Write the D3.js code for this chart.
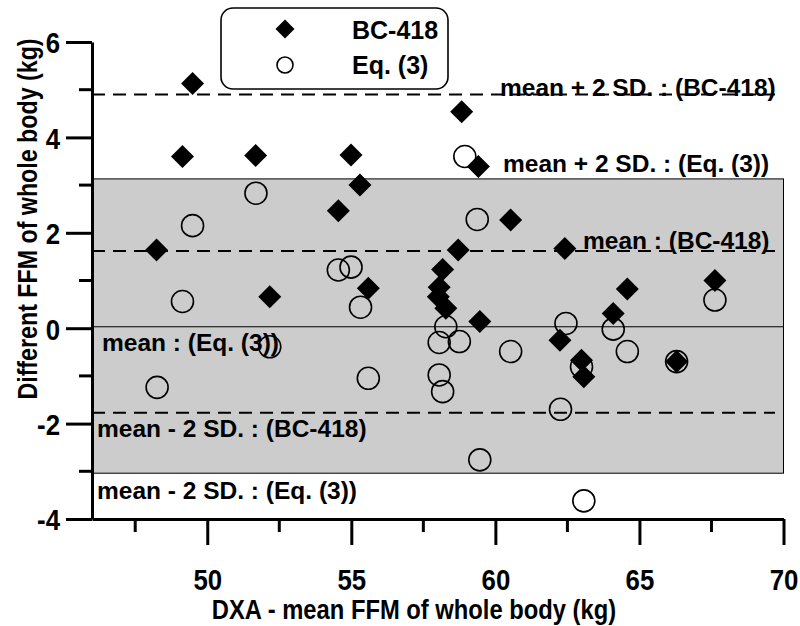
<!DOCTYPE html>
<html>
<head>
<meta charset="utf-8">
<script src="https://cdn.jsdelivr.net/npm/d3@7"></script>
<style>
  body { margin: 0; background: #fff; }
  svg { display: block; }
  text { font-family: "Liberation Sans", Arial, sans-serif; font-weight: bold; fill: #000; }
</style>
</head>
<body>
<div id="main-vis"></div>
<script>
// BC-418 (filled diamonds)
const bcX = [49.49, 49.14, 51.68, 54.99, 55.30, 58.83, 59.41, 60.53, 62.41, 58.71, 54.55, 48.24, 52.17,
             55.59, 58.17, 58.05, 58.02, 58.28, 59.46, 64.58, 64.09, 67.62, 62.24, 62.99, 63.07, 66.29];
const bcY = [5.13, 3.60, 3.62, 3.63, 3.00, 4.54, 3.39, 2.27, 1.67, 1.64, 2.46, 1.64, 0.66,
             0.84, 1.23, 0.86, 0.66, 0.42, 0.14, 0.82, 0.31, 1.00, -0.25, -0.67, -1.02, -0.70];
// Eq. (3) (open circles)
const eqX = [58.94, 51.69, 49.49, 54.55, 54.99, 49.14, 55.32, 58.28, 58.05, 58.75, 52.17, 55.59, 48.26,
             58.05, 58.17, 59.37, 60.53, 62.45, 62.26, 59.46, 64.09, 64.58, 67.62, 62.99, 66.29, 63.07];
const eqY = [3.60, 2.83, 2.15, 1.22, 1.28, 0.56, 0.44, 0.03, -0.30, -0.28, -0.39, -1.05, -1.24,
             -0.98, -1.33, 2.28, -0.49, 0.10, -1.70, -2.76, -0.02, -0.49, 0.59, -0.81, -0.70, -3.62];

const xTicks = [50, 55, 60, 65, 70];
const xMinor = [47.5, 52.5, 57.5, 62.5, 67.5];
const yTicks = [-4, -2, 0, 2, 4, 6];
const yMinor = [-3, -1, 1, 3, 5];

// limits of agreement
const eqMean = 0.03, eqUpper = 3.13, eqLower = -3.04;
const bcMean = 1.62, bcUpper = 4.90, bcLower = -1.77;

const seriesNames = ["BC-418", "Eq. (3)"];
const noteTexts = ["mean + 2 SD. : (BC-418)", "mean + 2 SD. : (Eq. (3))", "mean : (BC-418)",
                   "mean : (Eq. (3))", "mean - 2 SD. : (BC-418)", "mean - 2 SD. : (Eq. (3))"];

const W = 800, H = 626;
const x = d3.scaleLinear().domain([46, 70]).range([92, 783.5]);
const y = d3.scaleLinear().domain([-4, 6]).range([519, 42]);

const svg = d3.select("#main-vis").append("svg")
    .attr("width", W).attr("height", H);

// squeeze text horizontally, the original uses a narrow face
function squeeze(sel, k) {
  sel.each(function () {
    const len = this.getComputedTextLength();
    d3.select(this).attr("textLength", len * k).attr("lengthAdjust", "spacingAndGlyphs");
  });
}

// grey band = Eq.(3) limits
svg.append("rect")
    .attr("x", x(46)).attr("y", y(eqUpper))
    .attr("width", x(70) - x(46)).attr("height", y(eqLower) - y(eqUpper))
    .attr("fill", "#cccccc").attr("stroke", "#000").attr("stroke-width", 1);

svg.append("line")
    .attr("x1", x(46)).attr("x2", x(70))
    .attr("y1", y(eqMean)).attr("y2", y(eqMean))
    .attr("stroke", "#000").attr("stroke-width", 1);

// dashed BC-418 lines
svg.selectAll("line.dash")
  .data([bcUpper, bcMean, bcLower])
  .join("line")
    .attr("class", "dash")
    .attr("x1", x(46)).attr("x2", 775)
    .attr("y1", d => y(d)).attr("y2", d => y(d))
    .attr("stroke", "#000").attr("stroke-width", 2)
    .attr("stroke-dasharray", "13,8");

// annotations
const notePos = [[500, 96], [503, 172], [583, 249], [102, 351], [97, 437], [97, 499]];
svg.selectAll("text.note")
  .data(noteTexts)
  .join("text")
    .attr("class", "note")
    .attr("x", (d, i) => notePos[i][0])
    .attr("y", (d, i) => notePos[i][1])
    .style("font-size", "24.5px")
    .text(d => d);

// points
const diamond = r => `M0,${-r}L${r},0L0,${r}L${-r},0Z`;

svg.selectAll("circle.eq")
  .data(eqX)
  .join("circle")
    .attr("class", "eq")
    .attr("cx", d => x(d))
    .attr("cy", (d, i) => y(eqY[i]))
    .attr("r", 11)
    .attr("fill", "none").attr("stroke", "#000").attr("stroke-width", 1.6);

svg.selectAll("path.bc")
  .data(bcX)
  .join("path")
    .attr("class", "bc")
    .attr("transform", (d, i) => `translate(${x(d)},${y(bcY[i])})`)
    .attr("d", diamond(11.5))
    .attr("fill", "#000");

// axes
const fmt = d => String(d);   // plain hyphen like the original
const xAxis = svg.append("g").attr("transform", `translate(0,${y(-4)})`)
    .call(d3.axisBottom(x).tickValues(xTicks).tickSize(26).tickSizeOuter(0).tickFormat(fmt));
xAxis.append("g").selectAll("line")
  .data(xMinor).join("line")
    .attr("x1", d => x(d)).attr("x2", d => x(d))
    .attr("y1", 0).attr("y2", 13);
xAxis.selectAll("line").attr("stroke", "#000").attr("stroke-width", 3);
xAxis.select(".domain").attr("stroke", "#000").attr("stroke-width", 3);
xAxis.selectAll(".tick text")
    .attr("y", 0).attr("dy", 0)
    .attr("transform", "translate(0,71)")
    .style("font-size", "30px");
squeeze(xAxis.selectAll(".tick text"), 0.86);

const yAxis = svg.append("g").attr("transform", `translate(${x(46)},0)`)
    .call(d3.axisLeft(y).tickValues(yTicks).tickSize(26).tickSizeOuter(0).tickFormat(fmt));
yAxis.append("g").selectAll("line")
  .data(yMinor).join("line")
    .attr("y1", d => y(d)).attr("y2", d => y(d))
    .attr("x1", 0).attr("x2", -13);
yAxis.selectAll("line").attr("stroke", "#000").attr("stroke-width", 3);
yAxis.select(".domain").attr("stroke", "#000").attr("stroke-width", 3);
yAxis.selectAll(".tick text")
    .attr("x", -32).attr("dy", "0.36em")
    .style("font-size", "30px");
squeeze(yAxis.selectAll(".tick text"), 0.86);
svg.selectAll(".tick text").attr("fill", "#000").attr("font-family", null);

// axis titles
const xt = svg.append("text")
    .attr("x", 414).attr("y", 619)
    .attr("text-anchor", "middle")
    .style("font-size", "27px")
    .text("DXA - mean FFM of whole body (kg)");
squeeze(xt, 0.88);

const yt = svg.append("text")
    .attr("transform", "translate(37,219) rotate(-90)")
    .attr("text-anchor", "middle")
    .style("font-size", "27px")
    .text("Different FFM of whole body (kg)");
squeeze(yt, 0.86);

// legend
const lg = svg.append("g");
lg.append("rect")
    .attr("x", 221).attr("y", 8).attr("width", 227).attr("height", 81)
    .attr("rx", 12).attr("ry", 12)
    .attr("fill", "#fff").attr("stroke", "#000").attr("stroke-width", 1.6);
lg.append("path")
    .attr("transform", "translate(285,29)")
    .attr("d", diamond(9.5)).attr("fill", "#000");
lg.append("circle")
    .attr("cx", 285).attr("cy", 65).attr("r", 8)
    .attr("fill", "none").attr("stroke", "#000").attr("stroke-width", 1.6);
lg.selectAll("text")
  .data(seriesNames)
  .join("text")
    .attr("x", 352)
    .attr("y", (d, i) => 39 + i * 35)
    .style("font-size", "25px")
    .text(d => d);
</script>
</body>
</html>
